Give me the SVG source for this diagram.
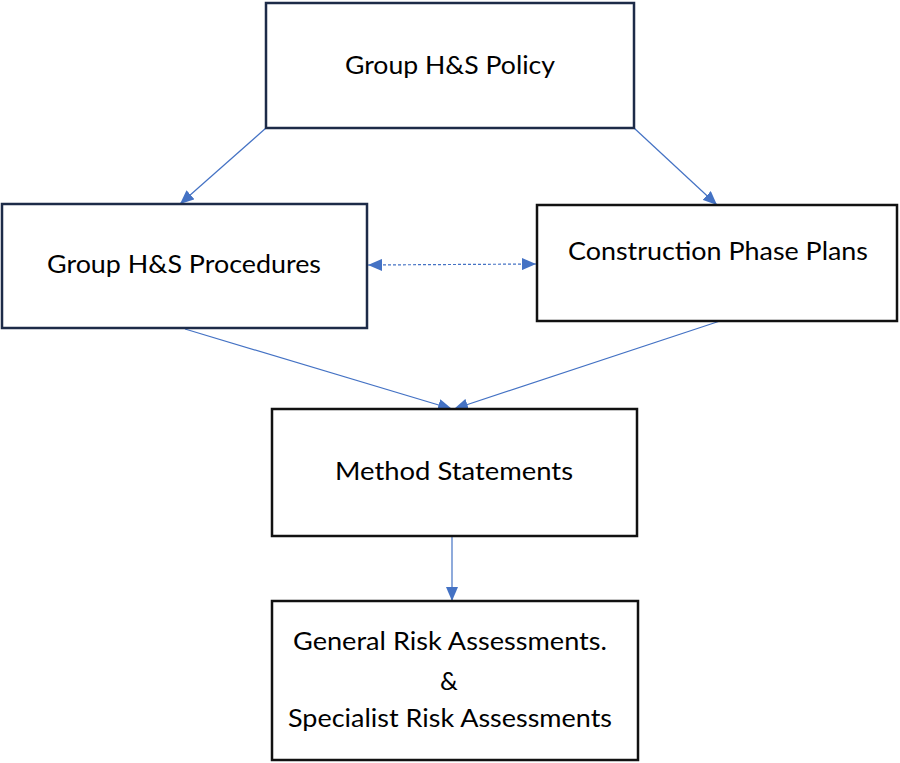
<svg xmlns="http://www.w3.org/2000/svg" width="900" height="763" viewBox="0 0 900 763">
<defs>
<style>
.box{fill:#fff;stroke-width:2.5}
.navy{stroke:#1d2b48}
.blk{stroke:#111}
.t{font-family:Lato,"Open Sans","Liberation Sans",sans-serif;font-size:25px;fill:#000;text-anchor:middle}
.c{stroke:#4472C4;stroke-width:1.2;fill:none}
</style>
<marker id="ah" viewBox="0 0 14 12" refX="14" refY="6" markerWidth="14" markerHeight="12" markerUnits="userSpaceOnUse" orient="auto-start-reverse">
<path d="M0,0 L14,6 L0,12 Z" fill="#4472C4"/>
</marker>
</defs>
<rect width="900" height="763" fill="#fff"/>
<g id="connectors">
<line class="c" x1="266" y1="128" x2="180" y2="204" marker-end="url(#ah)"/>
<line class="c" x1="634" y1="128" x2="717" y2="205" marker-end="url(#ah)"/>
<line class="c" x1="368" y1="265" x2="536" y2="264" stroke-dasharray="3,2" marker-start="url(#ah)" marker-end="url(#ah)"/>
<line class="c" x1="185" y1="329" x2="452" y2="409" marker-end="url(#ah)"/>
<line class="c" x1="720" y1="321" x2="454" y2="409" marker-end="url(#ah)"/>
<line class="c" x1="452" y1="537" x2="452" y2="601" marker-end="url(#ah)"/>
</g>
<g id="policy">
<rect class="box navy" x="266" y="3" width="368" height="125"/>
<text class="t" x="450" y="74" textLength="210" lengthAdjust="spacingAndGlyphs">Group H&amp;S Policy</text>
</g>
<g id="procedures">
<rect class="box navy" x="2" y="204" width="365" height="124"/>
<text class="t" x="184" y="273" textLength="274" lengthAdjust="spacingAndGlyphs">Group H&amp;S Procedures</text>
</g>
<g id="cpp">
<rect class="box blk" x="537" y="205" width="360" height="116"/>
<text class="t" x="718" y="260" textLength="300" lengthAdjust="spacingAndGlyphs">Construction Phase Plans</text>
</g>
<g id="method">
<rect class="box blk" x="272" y="409" width="365" height="127"/>
<text class="t" x="454" y="480" textLength="238" lengthAdjust="spacingAndGlyphs">Method Statements</text>
</g>
<g id="risk">
<rect class="box blk" x="272" y="601" width="366" height="159"/>
<text class="t" x="450" y="650" textLength="314" lengthAdjust="spacingAndGlyphs">General Risk Assessments.</text>
<text class="t" x="449" y="690">&amp;</text>
<text class="t" x="450" y="727" textLength="324" lengthAdjust="spacingAndGlyphs">Specialist Risk Assessments</text>
</g>
</svg>
